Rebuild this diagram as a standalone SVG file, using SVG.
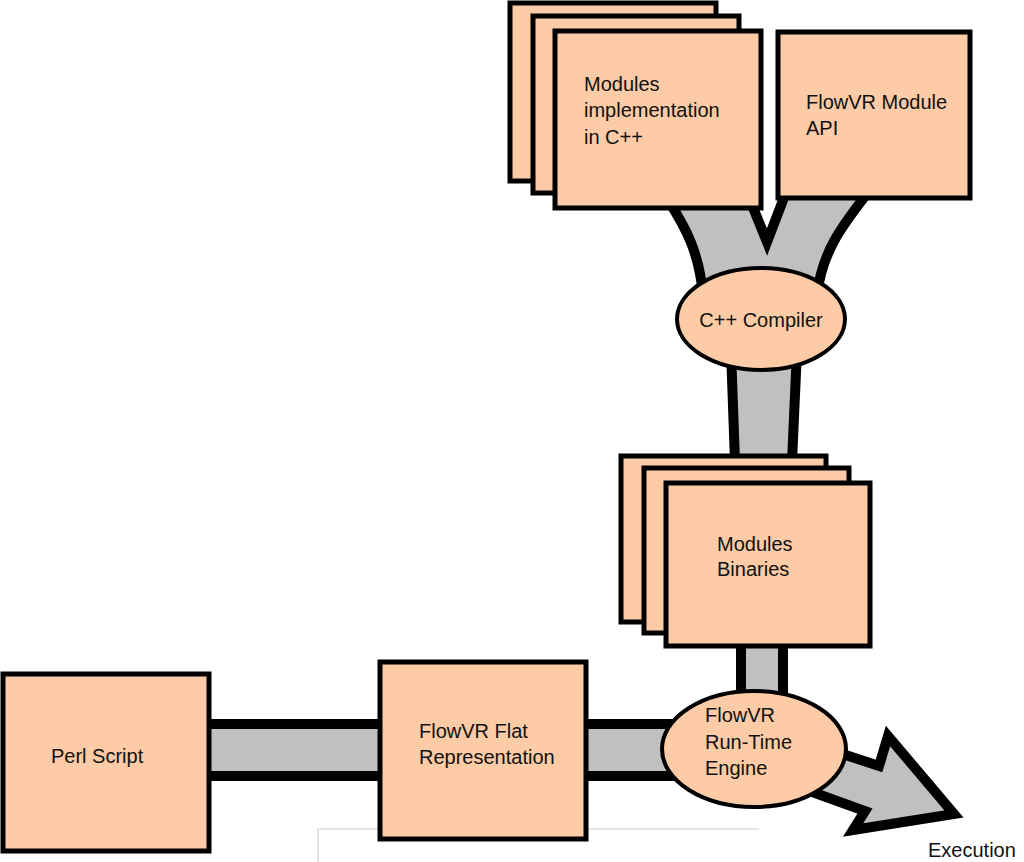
<svg xmlns="http://www.w3.org/2000/svg" width="1024" height="862" viewBox="0 0 1024 862">
<style>
.box{fill:#FDCBA6;stroke:#000;stroke-width:5}
.ell{fill:#FDCBA6;stroke:#000;stroke-width:4}
.pipe{fill:#C0C0C0;stroke:#000;stroke-width:10;stroke-linejoin:miter}
text{font-family:"Liberation Sans",Arial,sans-serif;font-size:20px;fill:#111}
</style>
<rect width="1024" height="862" fill="#fff"/>
<path d="M318,862 L318,829 L759,829" fill="none" stroke="#dddddd" stroke-width="1.5"/>
<g id="connectors">
<path class="pipe" d="M668,200 C686,228 699,252 703,295 L817,295 C822,252 842,226 866,195 L785,195 L767,242 L750,200 Z"/>
<path class="pipe" d="M731,350 L735,462 L792,462 L797,350 Z"/>
<rect class="pipe" x="741" y="640" width="42" height="75"/>
<rect class="pipe" x="200" y="724" width="190" height="52"/>
<rect class="pipe" x="578" y="724" width="105" height="52"/>
<polygon class="pipe" points="800,740 879,766 888,736 954,814 853,830 865,811 790,784"/>
</g>
<g id="modules-impl">
<rect class="box" x="510" y="3" width="206" height="178"/>
<rect class="box" x="533" y="16" width="206" height="177"/>
<rect class="box" x="555" y="31" width="206" height="177"/>
<text x="584" y="91">Modules</text>
<text x="584" y="117">implementation</text>
<text x="584" y="144">in C++</text>
</g>
<g id="module-api">
<rect class="box" x="778" y="32" width="192" height="166"/>
<text x="806" y="109">FlowVR Module</text>
<text x="806" y="135">API</text>
</g>
<g id="compiler">
<ellipse class="ell" cx="761" cy="319" rx="84" ry="51"/>
<text x="761" y="327" text-anchor="middle">C++ Compiler</text>
</g>
<g id="binaries">
<rect class="box" x="621" y="456" width="205" height="166"/>
<rect class="box" x="644" y="468" width="205" height="165"/>
<rect class="box" x="666" y="483" width="204" height="163"/>
<text x="717" y="551">Modules</text>
<text x="717" y="576">Binaries</text>
</g>
<g id="perl">
<rect class="box" x="3" y="674" width="206" height="177"/>
<text x="51" y="763">Perl Script</text>
</g>
<g id="flat">
<rect class="box" x="380" y="662" width="206" height="177"/>
<text x="419" y="738">FlowVR Flat</text>
<text x="419" y="764">Representation</text>
</g>
<g id="runtime">
<ellipse class="ell" cx="754" cy="749" rx="92" ry="58"/>
<text x="705" y="722">FlowVR</text>
<text x="705" y="749">Run-Time</text>
<text x="705" y="775">Engine</text>
</g>
<g id="execution">
<text x="928" y="857">Execution</text>
</g>
</svg>
